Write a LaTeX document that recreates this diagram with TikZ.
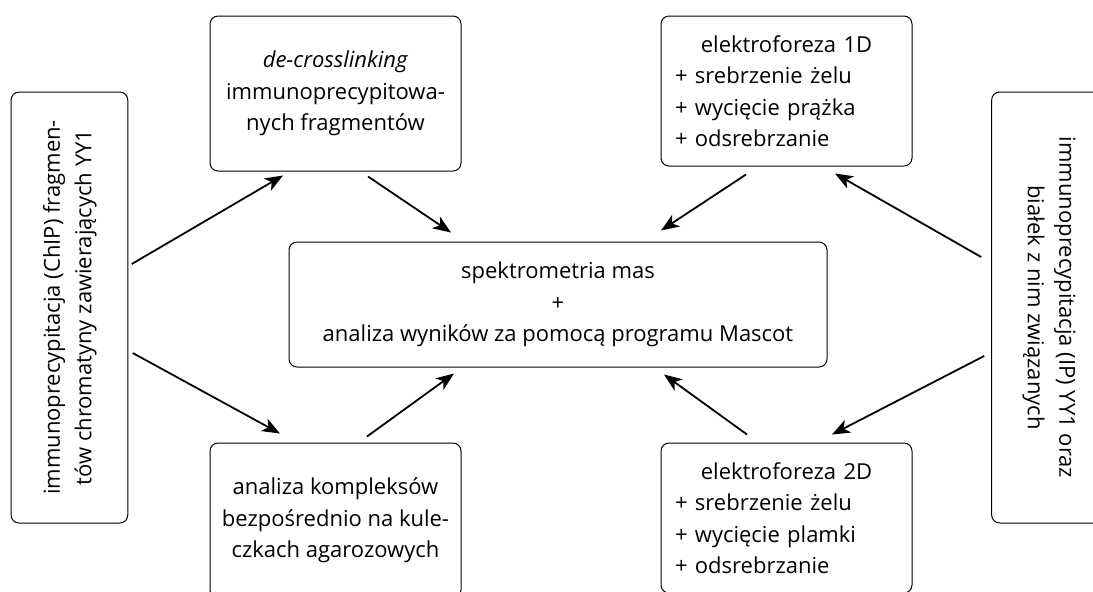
\documentclass[tikz,border=0pt]{standalone}
\usepackage{fontspec}
\setmainfont{Open Sans}
\usetikzlibrary{arrows.meta}

\begin{document}
\begin{tikzpicture}[
  x=0.5pt, y=-0.5pt,
  box/.style = {shape=rectangle, rounded corners=4pt, draw, line width=0.5pt,
    align=center, inner sep=0pt, font=\fontsize{11}{15.75}\selectfont},
  wide/.style = {box, minimum width=125.5pt, minimum height=77.5pt},
  list/.style = {box, minimum width=125.5pt, minimum height=75pt,
    text width=111.5pt, align=left},
  side/.style = {box, minimum width=58.35pt, minimum height=215.5pt},
  arr/.style = {-{Stealth[length=9pt, width=7pt, inset=2.5pt]}, line width=0.9pt}
  ]
  \useasboundingbox (0,0) rectangle (1093,591);
  \clip (0,0) rectangle (1093,591);

  \node[side] (chip) at (69.4,307.5) {\rotatebox{90}{\begin{tabular}{@{}c@{}}
    immunoprecypitacja (ChIP) fragmen-\\tów chromatyny zawierających YY1\end{tabular}}};
  \node[side] (ip) at (1050,307.5) {\rotatebox{-90}{\begin{tabular}{@{}c@{}}
    immunoprecypitacja (IP) YY1 oraz\\białek z nim związanych\end{tabular}}};

  \node[wide] (decross) at (335.5,93.5)
    {\textit{de-crosslinking}\\immunoprecypitowa-\\nych fragmentów};
  \node[wide] (agar) at (335.5,520.5)
    {analiza kompleksów\\bezpośrednio na kule-\\czkach agarozowych};

  \node[box, minimum width=269pt, minimum height=62.5pt] (mass) at (558,304.5)
    {spektrometria mas\\+\\analiza wyników za pomocą programu Mascot};

  \node[list] (e1d) at (786.5,91) {\makebox[\linewidth]{elektroforeza 1D}\\
    + srebrzenie żelu\\+ wycięcie prążka\\+ odsrebrzanie};
  \node[list] (e2d) at (786.5,518) {\makebox[\linewidth]{elektroforeza 2D}\\
    + srebrzenie żelu\\+ wycięcie plamki\\+ odsrebrzanie};

  % left side
  \draw[arr] ([shift={(3.5,-43.5)}]chip.east) -- ([shift={(-52.5,4)}]decross.south);
  \draw[arr] ([shift={(4.5,45.5)}]chip.east) -- ([shift={(-55.5,-9)}]agar.north);
  \draw[arr] ([shift={(32.5,5)}]decross.south) -- ([shift={(-107,-9)}]mass.north);
  \draw[arr] ([shift={(31.5,-6)}]agar.north) -- ([shift={(-104,6)}]mass.south);

  % right side
  \draw[arr] ([shift={(-10,-50.5)}]ip.west) -- ([shift={(48.5,7)}]e1d.south);
  \draw[arr] ([shift={(-7,48.5)}]ip.west) -- ([shift={(45.5,-8)}]e2d.north);
  \draw[arr] ([shift={(-40.5,8)}]e1d.south) -- ([shift={(103,-11)}]mass.north);
  \draw[arr] ([shift={(-39.5,-8)}]e2d.north) -- ([shift={(106,7)}]mass.south);
\end{tikzpicture}
\end{document}
